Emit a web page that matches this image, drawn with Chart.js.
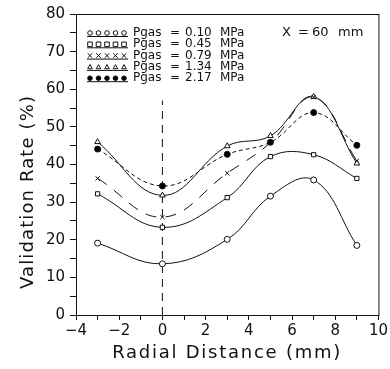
<!DOCTYPE html>
<html>
<head>
<meta charset="utf-8">
<script src="https://cdn.jsdelivr.net/npm/chart.js@4"></script>
<style>
  html, body { margin: 0; padding: 0; background: #fff; }
  #wrap { width: 390px; height: 369px; }
</style>
</head>
<body>
<div id="wrap"><canvas id="chart" width="390" height="369"></canvas></div>
<script>
// radial positions (mm)
const radialPos = [-3, 0, 3, 5, 7, 9];

// validation rate (%) for each gas pressure
const rate010 = [19.1, 13.6, 20.1, 31.6, 35.9, 18.5];
const rate045 = [32.2, 23.3, 31.2, 42.1, 42.6, 36.3];
const rate079 = [36.3, 26.0, 37.7, 45.8, 57.9, 41.0];
const rate134 = [46.0, 31.8, 44.9, 47.6, 58.0, 40.3];
const rate217 = [44.1, 34.3, 42.7, 45.9, 53.8, 45.1];

const pressures = ["0.10", "0.45", "0.79", "1.34", "2.17"];

// centre line
const centreX = [0, 0];
const centreY = [0, 57];

const FONT = "'DejaVu Sans', sans-serif";

function toPoints(xs, ys) {
  return xs.map((x, i) => ({ x: x, y: ys[i] }));
}

let styles = [
  { data: rate010, pointStyle: "circle", fill: "#fff", dash: [], radius: 3 },
  { data: rate045, pointStyle: "rect", fill: "#fff", dash: [], radius: 3 },
  { data: rate079, pointStyle: "crossRot", fill: "#fff", dash: [11, 9], radius: 3 },
  { data: rate134, pointStyle: "triangle", fill: "#fff", dash: [], radius: 3.3 },
  { data: rate217, pointStyle: "circle", fill: "#000", dash: [4, 3], radius: 3 },
];

let datasets = styles.map((s, i) => ({
  label: "Pgas = " + pressures[i] + " MPa",
  data: toPoints(radialPos, s.data),
  borderColor: "#111",
  borderWidth: 1,
  borderDash: s.dash,
  backgroundColor: s.fill,
  pointStyle: s.pointStyle,
  pointRadius: s.radius,
  pointBorderWidth: 1,
  pointBorderColor: "#111",
  pointBackgroundColor: s.fill,
  tension: 0.4,
  fill: false,
}));

datasets.push({
  label: "centre",
  data: toPoints(centreX, centreY),
  borderColor: "#111",
  borderWidth: 1,
  borderDash: [8, 6],
  pointRadius: 0,
  tension: 0,
  fill: false,
});

// marker for the in-plot legend
function drawMarker(ctx, style, x, y, r, fill) {
  ctx.save();
  ctx.setLineDash([]);
  ctx.lineWidth = 1;
  ctx.strokeStyle = "#111";
  ctx.fillStyle = fill;
  ctx.beginPath();
  if (style === "circle") {
    ctx.arc(x, y, r, 0, Math.PI * 2);
    ctx.fill();
    ctx.stroke();
  } else if (style === "rect") {
    ctx.rect(x - r, y - r, r * 2, r * 2);
    ctx.fill();
    ctx.stroke();
  } else if (style === "triangle") {
    ctx.moveTo(x, y - r);
    ctx.lineTo(x + r, y + r * 0.8);
    ctx.lineTo(x - r, y + r * 0.8);
    ctx.closePath();
    ctx.fill();
    ctx.stroke();
  } else {
    ctx.moveTo(x - r, y - r);
    ctx.lineTo(x + r, y + r);
    ctx.moveTo(x + r, y - r);
    ctx.lineTo(x - r, y + r);
    ctx.stroke();
  }
  ctx.restore();
}

// spaced-out axis title, stretched to a given width
function spacedText(ctx, text, cx, cy, width, angle) {
  ctx.save();
  ctx.translate(cx, cy);
  ctx.rotate(angle);
  let w = ctx.measureText(text).width;
  let gap = Math.max(0, (width - w) / (text.length - 1));
  ctx.letterSpacing = gap + "px";
  ctx.textAlign = "center";
  ctx.textBaseline = "middle";
  ctx.fillText(text, gap / 2, 0);
  ctx.restore();
}

const plotDecor = {
  id: "plotDecor",
  afterDraw(chart) {
    let ctx = chart.ctx;
    let area = chart.chartArea;
    ctx.save();
    // frame
    ctx.strokeStyle = "#111";
    ctx.lineWidth = 1;
    ctx.strokeRect(area.left + 0.5, area.top + 0.5, area.right - area.left, area.bottom - area.top);

    // legend inside the plot
    ctx.fillStyle = "#111";
    ctx.font = "12px " + FONT;
    ctx.textBaseline = "middle";
    styles.forEach((s, i) => {
      let y = area.top + 19 + i * 11.3;
      let x0 = area.left + 12;
      ctx.beginPath();
      ctx.setLineDash([]);
      ctx.moveTo(x0 - 1, y + 3.5);
      ctx.lineTo(x0 + 40, y + 3.5);
      ctx.stroke();
      for (let k = 0; k < 5; k++) {
        drawMarker(ctx, s.pointStyle, x0 + 2 + k * 8.5, y, 2.3, s.fill);
      }
      ctx.textAlign = "left";
      ctx.fillText("Pgas", area.left + 57, y);
      ctx.fillText("=", area.left + 94, y);
      ctx.fillText(pressures[i], area.left + 109, y);
      ctx.fillText("MPa", area.left + 144, y);
    });

    // position label
    ctx.font = "13px " + FONT;
    let ly = area.top + 19;
    ctx.fillText("X", area.left + 206, ly);
    ctx.fillText("=", area.left + 222, ly);
    ctx.fillText("60", area.left + 236, ly);
    ctx.fillText("mm", area.left + 262, ly);

    // axis titles
    ctx.font = "18px " + FONT;
    let xs = chart.scales.x;
    let ys = chart.scales.y;
    spacedText(ctx, "Radial Distance (mm)", (area.left + area.right) / 2 - 1, xs.bottom - 16, 228, 0);
    spacedText(ctx, "Validation Rate (%)", ys.left + 28, (area.top + area.bottom) / 2 + 28, 193, -Math.PI / 2);
    ctx.restore();
  },
};

new Chart(document.getElementById("chart"), {
  type: "line",
  data: { datasets: datasets },
  plugins: [plotDecor],
  options: {
    responsive: false,
    animation: false,
    layout: { padding: { top: 14, right: 11, left: 0, bottom: 0 } },
    plugins: {
      legend: { display: false },
      tooltip: { enabled: false },
    },
    scales: {
      x: {
        type: "linear",
        min: -4,
        max: 10,
        afterFit: (scale) => { scale.height = 54; },
        ticks: {
          stepSize: 1,
          autoSkip: false,
          maxRotation: 0,
          color: "#111",
          padding: 2,
          font: { family: FONT, size: 15 },
          callback: (v) => (v % 2 === 0 ? String(v).replace("-", "\u2212") : ""),
        },
        grid: { drawOnChartArea: false, color: "#111", tickLength: 5 },
        border: { color: "#111", width: 1 },
        title: { display: false },
      },
      y: {
        min: 0,
        max: 80,
        afterFit: (scale) => { scale.width = 76; },
        ticks: {
          stepSize: 5,
          autoSkip: false,
          color: "#111",
          padding: 5,
          font: { family: FONT, size: 15 },
          callback: (v) => (v % 10 === 0 ? v : ""),
        },
        grid: { drawOnChartArea: false, color: "#111", tickLength: 6 },
        border: { color: "#111", width: 1 },
        title: { display: false },
      },
    },
  },
});
</script>
</body>
</html>
